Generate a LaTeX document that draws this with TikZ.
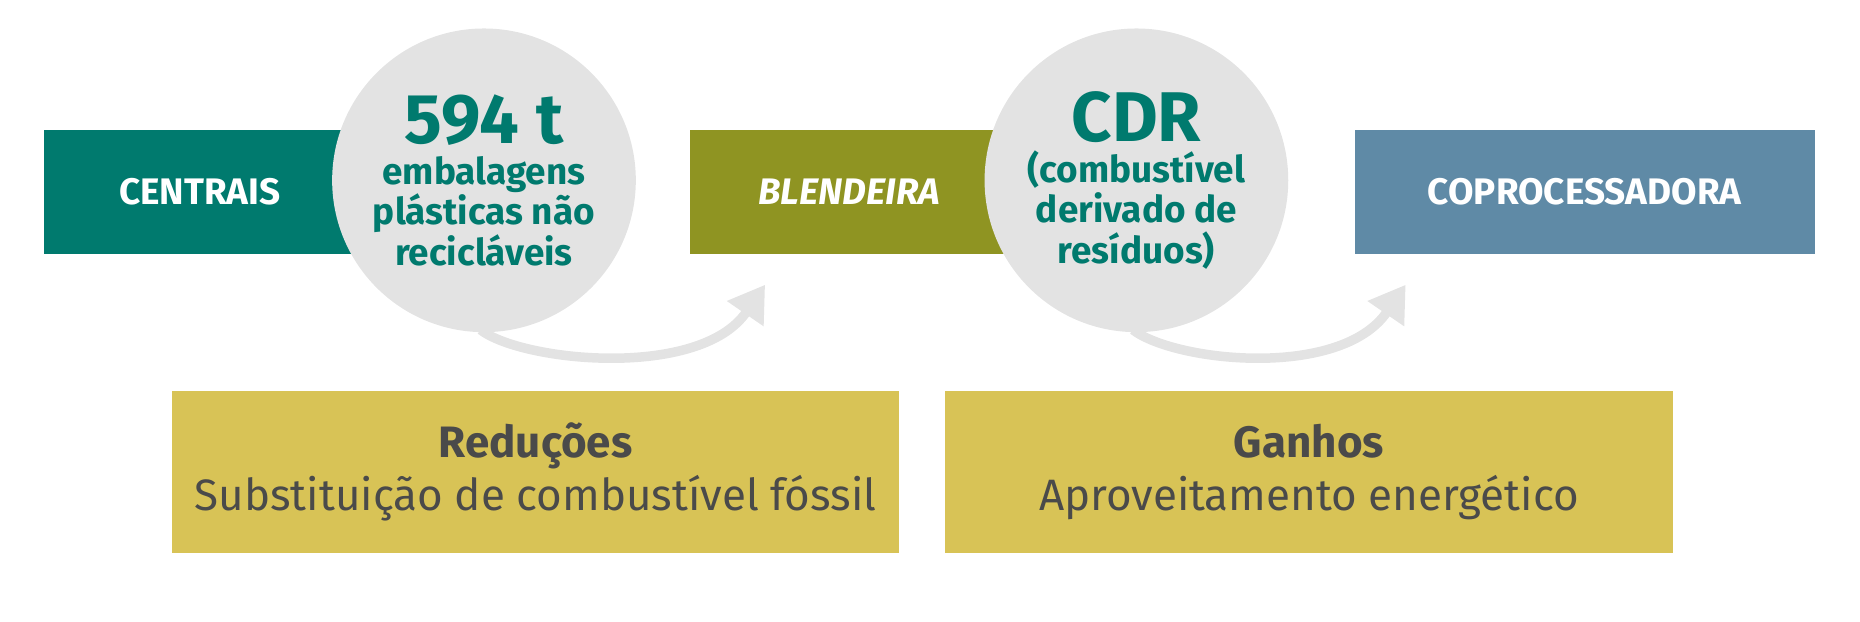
\documentclass[tikz,border=0pt]{standalone}
\usepackage{fontspec}
\setmainfont{Fira Sans}
\usetikzlibrary{positioning,arrows.meta}
\definecolor{teal}{HTML}{007A6E}
\definecolor{olive}{HTML}{8F9422}
\definecolor{slate}{HTML}{5F8AA6}
\definecolor{mist}{HTML}{E3E3E3}
\definecolor{mustard}{HTML}{D8C356}
\definecolor{ink}{HTML}{4A4A4A}
\tikzset{
  stagebox/.style={minimum height=104*0.01186cm, inner sep=0pt, text=white, font=\bfseries\fontsize{10.5}{12}\selectfont},
  bubble/.style={circle, fill=mist, minimum size=256*0.01186cm, inner sep=0pt, align=center, text=teal, font=\bfseries\fontsize{10.5}{11.5}\selectfont},
  notebox/.style={fill=mustard, minimum width=613*0.01186cm, minimum height=136*0.01186cm, inner sep=0pt, align=center, text=ink, font=\fontsize{12.5}{15}\selectfont},
  flow/.style={line width=2.7pt, draw=mist, -{Triangle[width=12pt,length=10pt]}}
}
\begin{document}
\begin{tikzpicture}[x=0.01186cm, y=-0.01186cm]
    \useasboundingbox (0,0) rectangle (1568,524);
    \node (centrais) [stagebox, fill=teal, minimum width=263*0.01186cm] at (168.5,162) {CENTRAIS};
    \node (blend) [stagebox, fill=olive, minimum width=268*0.01186cm] at (716,162) {\itshape BLENDEIRA};
    \node (copro) [stagebox, fill=slate, minimum width=388*0.01186cm] at (1336,162) {COPROCESSADORA};
    \node (c1) [bubble] at (408,152) {{\fontsize{20}{22}\selectfont 594 t}\\embalagens\\plásticas não\\recicláveis};
    \node (c2) [bubble] at (958,152) {{\fontsize{20}{22}\selectfont CDR}\\(combustível\\derivado de\\resíduos)};
    \coordinate (a1) at (405,278);
    \coordinate (e1) at (645,240);
    \coordinate (a2) at (955,278);
    \coordinate (e2) at (1185,240);
    \draw [flow] (a1) .. controls (440,305) and (590,320) .. (e1);
    \draw [flow] (a2) .. controls (990,305) and (1130,320) .. (e2);
    \node (reduc) [notebox] at (451.5,398) {\textbf{Reduções}\\Substituição de combustível fóssil};
    \node (ganho) [notebox] at (1103.5,398) {\textbf{Ganhos}\\Aproveitamento energético};
\end{tikzpicture}
\end{document}
